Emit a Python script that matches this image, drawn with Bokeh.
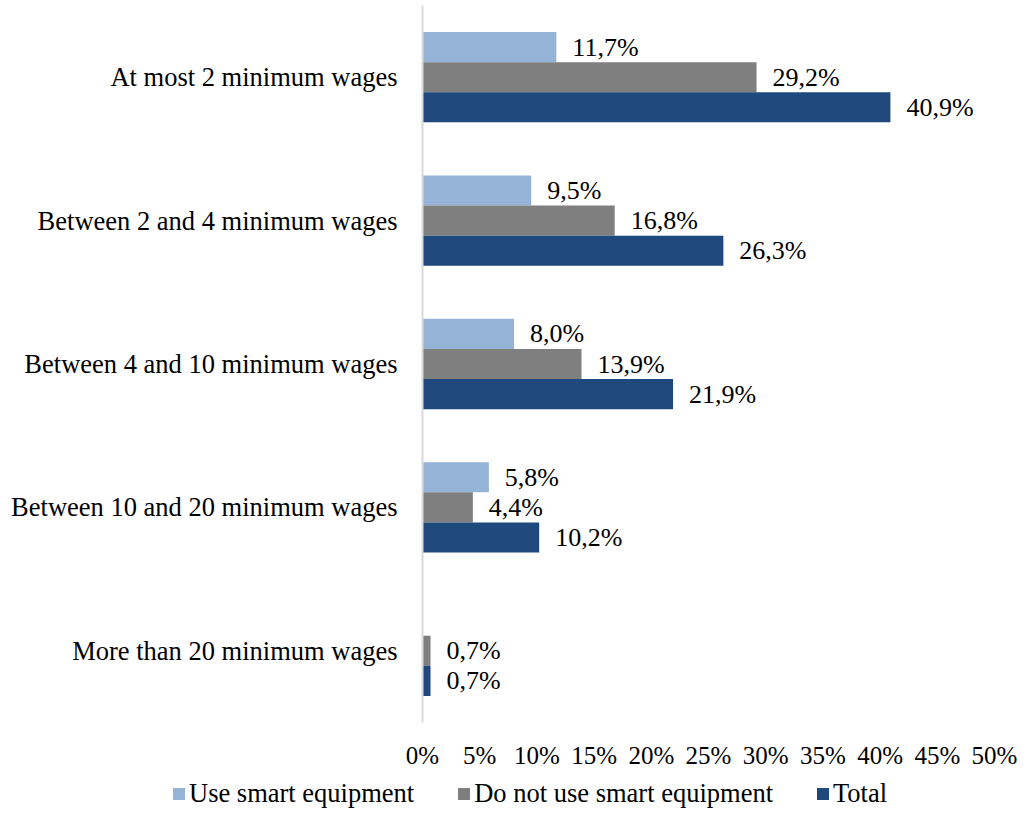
from bokeh.plotting import figure
from bokeh.models import ColumnDataSource, FactorRange, Range1d, Legend, LegendItem, NumeralTickFormatter, FixedTicker
from bokeh.transform import dodge
from bokeh.core.properties import value
from bokeh.embed import file_html
from bokeh.resources import INLINE

categories = ["At most 2 minimum wages", "Between 2 and 4 minimum wages",
              "Between 4 and 10 minimum wages", "Between 10 and 20 minimum wages",
              "More than 20 minimum wages"]
series_names = ["Use smart equipment", "Do not use smart equipment", "Total"]
use_smart = [11.7, 9.5, 8.0, 5.8, 0.0]
not_smart = [29.2, 16.8, 13.9, 4.4, 0.7]
total = [40.9, 26.3, 21.9, 10.2, 0.7]
x_ticks = [0, 5, 10, 15, 20, 25, 30, 35, 40, 45, 50]

colors = ["#95B3D7", "#7F7F7F", "#1F497D"]
offsets = [0.21, 0.0, -0.21]
FONT = "Liberation Serif"
FS = "26.5px"

p = figure(width=1017, height=779, output_backend="svg", toolbar_location=None,
           y_range=FactorRange(factors=list(reversed(categories)), range_padding=0),
           x_range=Range1d(0, 50),
           min_border_left=422, min_border_right=23, min_border_top=5, min_border_bottom=57)
p.outline_line_color = None
p.xgrid.visible = False
p.ygrid.visible = False
p.background_fill_color = "white"
p.border_fill_color = "white"

sources = []
for name, vals, col, off in zip(series_names, [use_smart, not_smart, total], colors, offsets):
    labels = [("%.1f%%" % v).replace(".", ",") if v > 0 else "" for v in vals]
    src = ColumnDataSource(dict(cat=categories, v=vals, lab=labels))
    sources.append(src)
    p.hbar(y=dodge("cat", off, range=p.y_range), right="v", left=0, height=0.21,
           source=src, fill_color=col, line_color=None)
    p.text(x="v", y=dodge("cat", off, range=p.y_range), text="lab", source=src,
           x_offset=16, text_baseline="middle", text_align="left",
           text_font=value(FONT), text_font_size="26px", text_color="black")

# x axis
p.xaxis.ticker = FixedTicker(ticks=x_ticks)
p.xaxis.formatter = NumeralTickFormatter(format="0")
p.xaxis.major_label_overrides = {t: "%d%%" % t for t in x_ticks}
p.xaxis.axis_line_color = None
p.xaxis.major_tick_line_color = None
p.xaxis.minor_tick_line_color = None
p.xaxis.major_tick_out = 0
p.xaxis.major_tick_in = 0
p.xaxis.major_label_text_font = FONT
p.xaxis.major_label_text_font_size = "25px"
p.xaxis.major_label_text_color = "black"
p.xaxis.major_label_standoff = 19

# y axis
p.yaxis.axis_line_color = "#D9D9D9"
p.yaxis.axis_line_width = 2
p.yaxis.major_tick_line_color = None
p.yaxis.minor_tick_line_color = None
p.yaxis.major_tick_out = 0
p.yaxis.major_tick_in = 0
p.yaxis.major_label_text_font = FONT
p.yaxis.major_label_text_font_size = FS
p.yaxis.major_label_text_color = "black"
p.yaxis.major_label_standoff = 25

# legend strip below the chart (separate root, so no frame alignment)
lf = figure(width=1017, height=30, output_backend="svg", toolbar_location=None,
            x_range=Range1d(0, 50), y_range=FactorRange(factors=list(reversed(categories))),
            x_axis_type=None, y_axis_type=None,
            min_border_left=0, min_border_right=0, min_border_top=0, min_border_bottom=0)
lf.outline_line_color = None
lf.xgrid.visible = False
lf.ygrid.visible = False
lf.background_fill_color = "white"
lf.border_fill_color = "white"
leg_r = []
for src, c in zip(sources, colors):
    r = lf.hbar(y="cat", right="v", left=0, height=0.5, source=src, fill_color=c, line_color=None)
    r.visible = False
    leg_r.append(r)

legend = Legend(items=[LegendItem(label=n, renderers=[r]) for n, r in zip(series_names, leg_r)],
                location=(171, 0), orientation="horizontal", glyph_width=15, glyph_height=15,
                label_standoff=3, spacing=42, padding=0, margin=0, border_line_color=None,
                background_fill_alpha=0, label_text_font=FONT, label_text_font_size=FS,
                label_text_color="black")
lf.add_layout(legend, "center")

open("out.html", "w").write(file_html([p, lf], INLINE))
